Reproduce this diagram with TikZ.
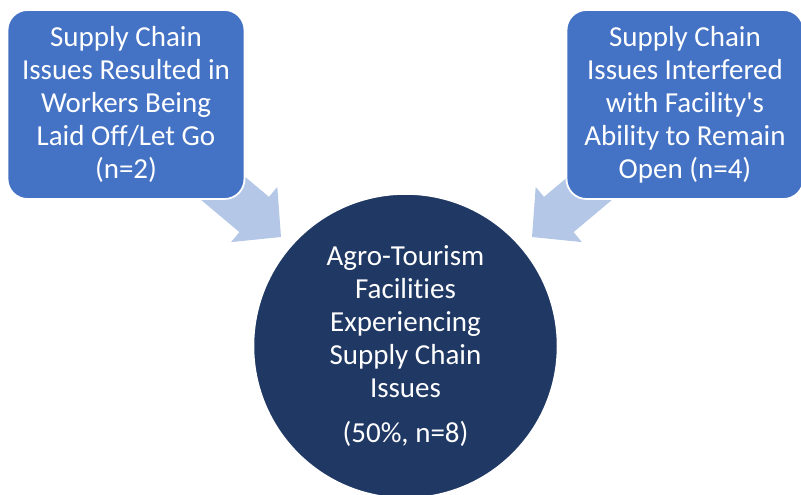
\documentclass[tikz,border=0pt]{standalone}
\usepackage{fontspec}
\setmainfont{Carlito}[Ligatures=NoCommon]
\definecolor{boxblue}{HTML}{4472C4}
\definecolor{navy}{HTML}{203864}
\definecolor{arrowblue}{HTML}{B4C7E7}
\begin{document}
\begin{tikzpicture}[x=1pt,y=-1pt,
  txt/.style={text=white,align=center,font=\fontsize{29}{33}\selectfont},
  issuebox/.style={txt,rectangle,rounded corners=20pt,fill=boxblue,draw=white,
    line width=1.8pt,minimum width=237pt,minimum height=189pt,inner sep=0pt},
  hub/.style={txt,circle,fill=navy,draw=white,line width=1.5pt,
    minimum size=304pt,inner sep=0pt},
  blockarrow/.style={fill=arrowblue,draw=none}]
\useasboundingbox (0,0) rectangle (801,495);

% block arrows pointing towards the central circle
\fill[blockarrow] (185.8,187.1) -- (239.4,232.1) -- (231.1,242.1) -- (281,237)
  -- (277.3,186.9) -- (269,196.9) -- (215.4,151.9) -- cycle;
\fill[blockarrow] (627.2,187.1) -- (573.6,232.1) -- (581.9,242.1) -- (532,237)
  -- (535.7,186.9) -- (544,196.9) -- (597.6,151.9) -- cycle;

% the two issue boxes
\node[issuebox] (laidoff) at (126,104.5)
  {Supply Chain\\Issues Resulted in\\Workers Being\\Laid Off/Let Go\\(n=2)};
\node[issuebox] (open) at (685,104.5)
  {Supply Chain\\Issues Interfered\\with Facility\textquotesingle s\\Ability to Remain\\Open (n=4)};

% central circle
\node[hub] (hub) at (405.5,346)
  {Agro-Tourism\\Facilities\\Experiencing\\Supply Chain\\Issues\\[12pt](50\%, n=8)};
\end{tikzpicture}
\end{document}
